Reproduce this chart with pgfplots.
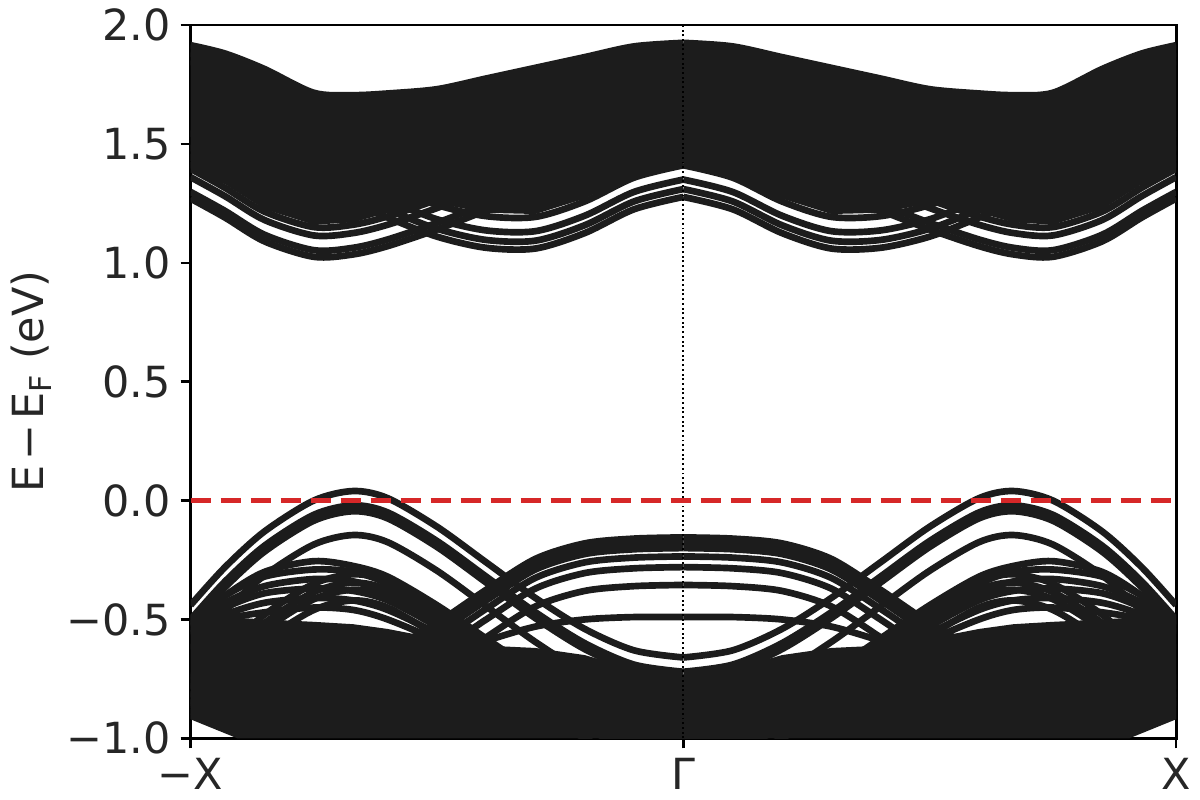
\documentclass[border=0pt]{standalone}
\usepackage{fontspec}
\setmainfont{DejaVu Sans}
\usepackage{pgfplots}
\usepackage{pgfplotstable}
\pgfplotsset{compat=1.18}
\definecolor{bandc}{RGB}{28,28,28}
\definecolor{redc}{RGB}{214,39,40}

% conduction bands, symmetric about Gamma (xp = +k, xn = -k)
\pgfplotstableread{
xp xn a0 a1 a2 a3 b0 b1 b2 b3 u0 u1 u2
0 0 1.42 1.448 1.51 1.545 1.277 1.31 1.35 1.41 1.925 1.89 1.855
0.1 -0.1 1.40 1.428 1.49 1.525 1.225 1.258 1.298 1.358 1.91 1.875 1.84
0.2 -0.2 1.36 1.388 1.45 1.485 1.125 1.158 1.198 1.258 1.865 1.83 1.795
0.3 -0.3 1.30 1.328 1.39 1.425 1.06 1.093 1.133 1.193 1.82 1.785 1.75
0.4 -0.4 1.22 1.248 1.31 1.345 1.063 1.096 1.136 1.196 1.775 1.74 1.705
0.5 -0.5 1.14 1.168 1.23 1.265 1.11 1.143 1.183 1.243 1.73 1.695 1.66
0.6 -0.6 1.07 1.098 1.16 1.195 1.19 1.223 1.263 1.323 1.712 1.677 1.642
0.67 -0.67 1.035 1.063 1.125 1.16 1.25 1.283 1.323 1.383 1.705 1.67 1.635
0.75 -0.75 1.025 1.053 1.115 1.15 1.31 1.343 1.383 1.443 1.715 1.68 1.645
0.85 -0.85 1.09 1.118 1.18 1.215 1.37 1.403 1.443 1.503 1.815 1.78 1.745
0.93 -0.93 1.19 1.218 1.28 1.315 1.40 1.433 1.473 1.533 1.88 1.845 1.81
1.0 -1.0 1.27 1.298 1.36 1.395 1.41 1.443 1.483 1.543 1.915 1.88 1.845
}\cond

% valence bands
\pgfplotstableread{
xp xn P1 P2 P3 P4 P5 P6 P7 P8 P9 P10 P11 P12 P13 P14 G1 G2 G3 G4 G5 G6 G7
0 0 -0.66 -0.72 -0.745 -0.845 -0.95 -1.01 -1.045 -1.075 -1.12 -0.95 -0.97 -1.0 -1.02 -1.05 -0.155 -0.175 -0.20 -0.235 -0.28 -0.355 -0.49
0.1 -0.1 -0.63 -0.69 -0.715 -0.815 -0.92 -0.98 -1.015 -1.045 -1.09 -0.93 -0.95 -0.98 -1.0 -1.03 -0.16 -0.18 -0.205 -0.24 -0.285 -0.36 -0.49
0.2 -0.2 -0.54 -0.60 -0.625 -0.725 -0.84 -0.89 -0.925 -0.955 -1.0 -0.86 -0.88 -0.91 -0.93 -0.96 -0.18 -0.20 -0.225 -0.26 -0.305 -0.38 -0.50
0.3 -0.3 -0.41 -0.47 -0.495 -0.595 -0.72 -0.76 -0.795 -0.825 -0.87 -0.74 -0.77 -0.80 -0.82 -0.85 -0.245 -0.265 -0.29 -0.325 -0.37 -0.445 -0.53
0.4 -0.4 -0.26 -0.32 -0.345 -0.445 -0.58 -0.61 -0.645 -0.675 -0.72 -0.60 -0.63 -0.66 -0.69 -0.72 -0.375 -0.395 -0.42 -0.455 -0.50 -0.575 -0.59
0.5 -0.5 -0.11 -0.17 -0.195 -0.295 -0.44 -0.46 -0.495 -0.525 -0.57 -0.47 -0.50 -0.53 -0.56 -0.59 -0.515 -0.535 -0.56 -0.595 -0.64 -0.715 -0.66
0.6 -0.6 0.01 -0.05 -0.075 -0.175 -0.32 -0.34 -0.375 -0.405 -0.45 -0.35 -0.39 -0.42 -0.46 -0.50 -0.635 -0.655 -0.68 -0.715 -0.76 -0.835 -0.74
0.67 -0.67 0.04 -0.02 -0.045 -0.145 -0.275 -0.31 -0.345 -0.375 -0.42 -0.30 -0.34 -0.38 -0.42 -0.46 -0.705 -0.725 -0.75 -0.785 -0.83 -0.905 -0.79
0.75 -0.75 0.00 -0.06 -0.085 -0.185 -0.255 -0.35 -0.385 -0.415 -0.46 -0.29 -0.33 -0.37 -0.41 -0.45 -0.755 -0.775 -0.80 -0.835 -0.88 -0.955 -0.84
0.85 -0.85 -0.13 -0.19 -0.215 -0.315 -0.30 -0.48 -0.515 -0.545 -0.59 -0.32 -0.36 -0.39 -0.43 -0.47 -0.775 -0.795 -0.82 -0.855 -0.90 -0.94 -0.87
0.93 -0.93 -0.28 -0.34 -0.365 -0.465 -0.40 -0.63 -0.665 -0.695 -0.74 -0.40 -0.43 -0.45 -0.48 -0.50 -0.755 -0.775 -0.80 -0.835 -0.88 -0.925 -0.86
1.0 -1.0 -0.44 -0.50 -0.525 -0.625 -0.52 -0.79 -0.825 -0.855 -0.90 -0.50 -0.52 -0.53 -0.55 -0.56 -0.735 -0.755 -0.78 -0.815 -0.86 -0.905 -0.85
}\val

\begin{document}
\begin{tikzpicture}
\path[use as bounding box] (-68.6bp,-22.2bp) rectangle (363.4bp,265.8bp);
\begin{axis}[
  scale only axis, width=354.8bp, height=256.8bp,
  xmin=-1, xmax=1, ymin=-1, ymax=2,
  xtick={-1,0,1}, xticklabels={−X,Γ,X},
  ytick={-1,-0.5,0,0.5,1,1.5,2},
  yticklabels={−1.0,−0.5,0.0,0.5,1.0,1.5,2.0},
  xtick pos=bottom, ytick pos=left,
  tick align=outside, major tick length=3.6bp,
  tick style={line width=0.9bp, color=black},
  axis line style={line width=1bp, color=black},
  ticklabel style={font=\fontsize{15.5}{18}\selectfont, color=black!85},
  ylabel={E\kern0.12em−\kern0.12emE\textsubscript{F} (eV)},
  ylabel style={font=\fontsize{15.5}{18}\selectfont, color=black!85, at={(axis description cs:-0.162,0.5)}, anchor=center},
  band/.style={draw=bandc, line width=2.4bp, smooth, line join=round, mark=none},
]
% dense conduction core
\addplot[fill=bandc, draw=none] coordinates {
(-1,1.915) (-0.93,1.88) (-0.85,1.815) (-0.75,1.715) (-0.67,1.705) (-0.6,1.712) (-0.5,1.73) (-0.4,1.775) (-0.3,1.82) (-0.2,1.865) (-0.1,1.91) (0,1.925)
(0.1,1.91) (0.2,1.865) (0.3,1.82) (0.4,1.775) (0.5,1.73) (0.6,1.712) (0.67,1.705) (0.75,1.715) (0.85,1.815) (0.93,1.88) (1,1.915)
(1,1.40) (0.93,1.33) (0.85,1.225) (0.75,1.16) (0.67,1.17) (0.6,1.21) (0.5,1.25) (0.4,1.21) (0.3,1.205) (0.2,1.27) (0.1,1.37) (0,1.42)
(-0.1,1.37) (-0.2,1.27) (-0.3,1.205) (-0.4,1.21) (-0.5,1.25) (-0.6,1.21) (-0.67,1.17) (-0.75,1.16) (-0.85,1.225) (-0.93,1.33) (-1,1.40)} --cycle;
% dense valence background
\addplot[fill=bandc, draw=none] coordinates {
(-1,-0.48) (-0.93,-0.49) (-0.85,-0.50) (-0.75,-0.51) (-0.67,-0.52) (-0.6,-0.54) (-0.5,-0.58) (-0.4,-0.61) (-0.3,-0.62) (-0.2,-0.65) (-0.1,-0.71) (0,-0.74)
(0.1,-0.71) (0.2,-0.65) (0.3,-0.62) (0.4,-0.61) (0.5,-0.58) (0.6,-0.54) (0.67,-0.52) (0.75,-0.51) (0.85,-0.50) (0.93,-0.49) (1,-0.48)
(1,-0.92) (0.905,-1.0) (-0.905,-1.0) (-1,-0.92)} --cycle;
\pgfplotsinvokeforeach{a0,a1,a2,a3,b0,b1,b2,b3,u0,u1,u2}{
  \addplot[band] table[x=xn,y=#1]{\cond};
  \addplot[band] table[x=xp,y=#1]{\cond};
}
\pgfplotsinvokeforeach{P14,P13,P12,P11,P10,P9,P8,P7,P6,P5,P4,P3,P2,P1,G7,G6,G5,G4,G3,G2,G1}{
  \addplot[band] table[x=xn,y=#1]{\val};
  \addplot[band] table[x=xp,y=#1]{\val};
}
\addplot[black, line width=0.7bp, densely dotted] coordinates {(0,-1) (0,2)};
\addplot[redc, line width=1.8bp, dash pattern=on 7.2bp off 3.6bp] coordinates {(-1,0) (1,0)};
\end{axis}
\end{tikzpicture}
\end{document}
